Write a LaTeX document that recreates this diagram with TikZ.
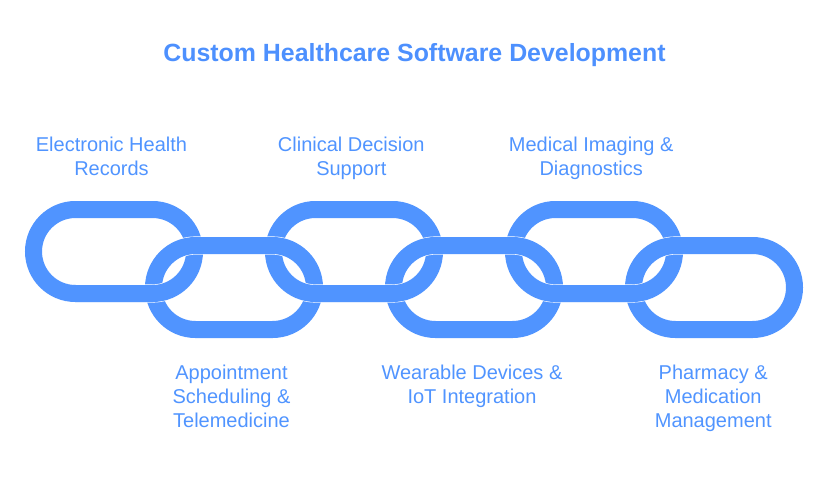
\documentclass[tikz,border=0pt]{standalone}
\usepackage{fontspec}
\setmainfont{Liberation Sans}
\definecolor{chainblue}{HTML}{5094FF}
\definecolor{titleblue}{HTML}{4D90FE}
\tikzset{
  x=1pt,y=-1pt,
  titletext/.style={text=titleblue,font=\fontsize{24.9}{29}\selectfont\bfseries,align=center,inner sep=0pt},
  labeltext/.style={text=chainblue,font=\fontsize{20}{24}\selectfont,align=center,inner sep=0pt},
  casing/.style={draw=white,line width=18.2pt,rounded corners=42pt},
  linkband/.style={draw=chainblue,line width=17pt,rounded corners=42pt}
}
\newcommand{\chainlink}[2]{%
  \path[casing] (#1,#2) rectangle ++(161,84);
  \path[linkband] (#1,#2) rectangle ++(161,84);
}
\begin{document}
\begin{tikzpicture}
\useasboundingbox (0,0) rectangle (829,480);
% upper links
\chainlink{33.5}{209.5}
\chainlink{273.5}{209.5}
\chainlink{513.5}{209.5}
% lower links pass over the upper links along their top straps
\chainlink{153.5}{245.5}
\chainlink{393.5}{245.5}
\chainlink{633.5}{245.5}
% upper links pass over the lower links along their bottom straps
\begin{scope}
  \clip (0,270) rectangle (829,320);
  \chainlink{33.5}{209.5}
  \chainlink{273.5}{209.5}
  \chainlink{513.5}{209.5}
\end{scope}
\node[titletext] (title) at (414.5,55) {Custom Healthcare Software Development};
\node[labeltext] (ehr) at (111.5,156) {Electronic Health\\Records};
\node[labeltext] (cds) at (351.3,158) {Clinical Decision\\Support};
\node[labeltext] (img) at (591.2,158) {Medical Imaging \&\\Diagnostics};
\node[labeltext] (app) at (231.5,396) {Appointment\\Scheduling \&\\Telemedicine};
\node[labeltext] (iot) at (472,386) {Wearable Devices \&\\IoT Integration};
\node[labeltext] (pha) at (713.2,398) {Pharmacy \&\\Medication\\Management};
\end{tikzpicture}
\end{document}
